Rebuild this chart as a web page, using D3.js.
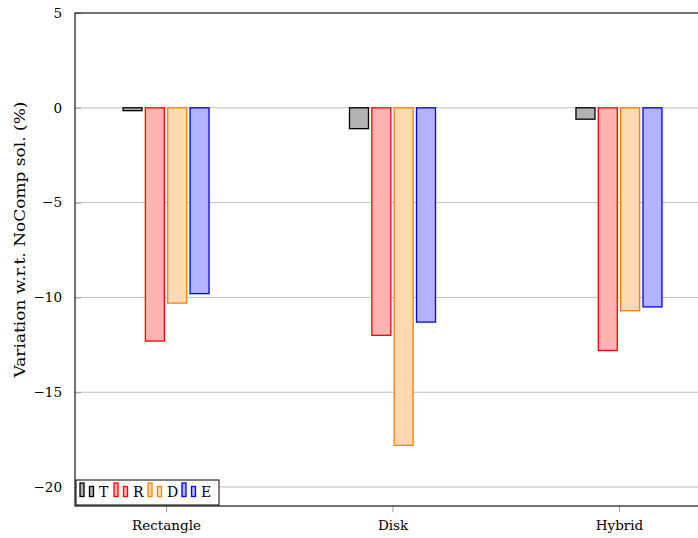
<!DOCTYPE html>
<html>
<head>
<meta charset="utf-8">
<script src="https://cdn.jsdelivr.net/npm/d3@7"></script>
<style>
  html, body { margin: 0; padding: 0; background: #fff; }
  svg { display: block; }
  text { font-family: "DejaVu Serif", "Liberation Serif", serif; fill: #000; }
</style>
</head>
<body>
<svg id="chart" width="698" height="538"></svg>
<script>
// Categories, series and values (variation in % with respect to the NoComp solution)
const categories = ["Rectangle", "Disk", "Hybrid"];
const seriesNames = ["T", "R", "D", "E"];
const valuesT = [-0.15, -1.1, -0.6];
const valuesR = [-12.3, -12.0, -12.8];
const valuesD = [-10.3, -17.8, -10.7];
const valuesE = [-9.8, -11.3, -10.5];
const yTicks = [5, 0, -5, -10, -15, -20];
const yLabel = "Variation w.r.t. NoComp sol. (%)";

const seriesValues = { T: valuesT, R: valuesR, D: valuesD, E: valuesE };
const seriesStyle = {
  T: { fill: "#b3b3b3", stroke: "#000000" },
  R: { fill: "#ffb3b3", stroke: "#ff0000" },
  D: { fill: "#ffd9b3", stroke: "#ff8000" },
  E: { fill: "#b3b3ff", stroke: "#0000ff" }
};

const FONT = "'DejaVu Serif', serif";
const FS = 13.5;

const svg = d3.select("#chart");
const plot = { left: 75, top: 13, right: 710, bottom: 506 };

const x = d3.scalePoint().domain(categories).range([plot.left, plot.right]).padding(0.402);
const xs = d3.scaleBand().domain(seriesNames).range([-43, 43]).paddingInner(0.15);
const y = d3.scaleLinear().domain([-21, 5]).range([plot.bottom, plot.top]);

const fmt = v => (v < 0 ? "\u2212" + Math.abs(v) : String(v));

// Horizontal grid lines
svg.append("g").selectAll("line").data(yTicks.filter(t => t !== 5)).join("line")
  .attr("x1", plot.left).attr("x2", plot.right)
  .attr("y1", d => y(d)).attr("y2", d => y(d))
  .attr("stroke", "#c0c0c0").attr("stroke-width", 1);

// Y axis ticks and labels
const yAxis = d3.axisLeft(y).tickValues(yTicks).tickFormat(fmt).tickSize(-6).tickPadding(13);
const gy = svg.append("g").attr("transform", `translate(${plot.left},0)`).call(yAxis)
  .attr("font-family", FONT).attr("font-size", FS);
gy.select(".domain").remove();
gy.selectAll(".tick line").attr("stroke", "#a0a0a0");

// X axis ticks and labels
const xAxis = d3.axisBottom(x).tickSize(6).tickPadding(8);
const gx = svg.append("g").attr("transform", `translate(0,${plot.bottom})`).call(xAxis)
  .attr("font-family", FONT).attr("font-size", FS);
gx.select(".domain").remove();
gx.selectAll(".tick line").attr("stroke", "#a0a0a0");

// Bars
const groups = svg.append("g").selectAll("g").data(categories).join("g")
  .attr("transform", d => `translate(${x(d)},0)`);
groups.selectAll("rect")
  .data((c, i) => seriesNames.map(s => ({ s, v: seriesValues[s][i] })))
  .join("rect")
  .attr("x", d => xs(d.s))
  .attr("width", xs.bandwidth())
  .attr("y", d => y(Math.max(0, d.v)))
  .attr("height", d => Math.abs(y(d.v) - y(0)))
  .attr("fill", d => seriesStyle[d.s].fill)
  .attr("stroke", d => seriesStyle[d.s].stroke)
  .attr("stroke-width", 1.3);

// Plot frame
svg.append("rect")
  .attr("x", plot.left).attr("y", plot.top)
  .attr("width", plot.right - plot.left).attr("height", plot.bottom - plot.top)
  .attr("fill", "none").attr("stroke", "#000").attr("stroke-width", 1.1);

// Y axis title
svg.append("text")
  .attr("transform", `translate(25,${(plot.top + plot.bottom) / 2 - 20}) rotate(-90)`)
  .attr("text-anchor", "middle")
  .attr("font-size", 14)
  .attr("textLength", 276)
  .attr("lengthAdjust", "spacingAndGlyphs")
  .text(yLabel);

// Legend
const legend = svg.append("g").attr("transform", `translate(${plot.left + 1},${plot.bottom - 26})`);
legend.append("rect").attr("x", 0).attr("y", 0).attr("width", 143).attr("height", 25)
  .attr("fill", "#fff").attr("stroke", "#000").attr("stroke-width", 1);
const entryX = [4, 38, 72, 106];
const entries = legend.selectAll("g.entry").data(seriesNames).join("g")
  .attr("class", "entry")
  .attr("transform", (d, i) => `translate(${entryX[i]},0)`);
entries.append("rect").attr("x", 0).attr("y", 3).attr("width", 4).attr("height", 13.5)
  .attr("fill", d => seriesStyle[d].fill).attr("stroke", d => seriesStyle[d].stroke).attr("stroke-width", 1.3);
entries.append("rect").attr("x", 9.5).attr("y", 6.5).attr("width", 4).attr("height", 10)
  .attr("fill", d => seriesStyle[d].fill).attr("stroke", d => seriesStyle[d].stroke).attr("stroke-width", 1.3);
entries.append("text").attr("x", 19).attr("y", 17).attr("font-size", 14).text(d => d);
</script>
</body>
</html>
